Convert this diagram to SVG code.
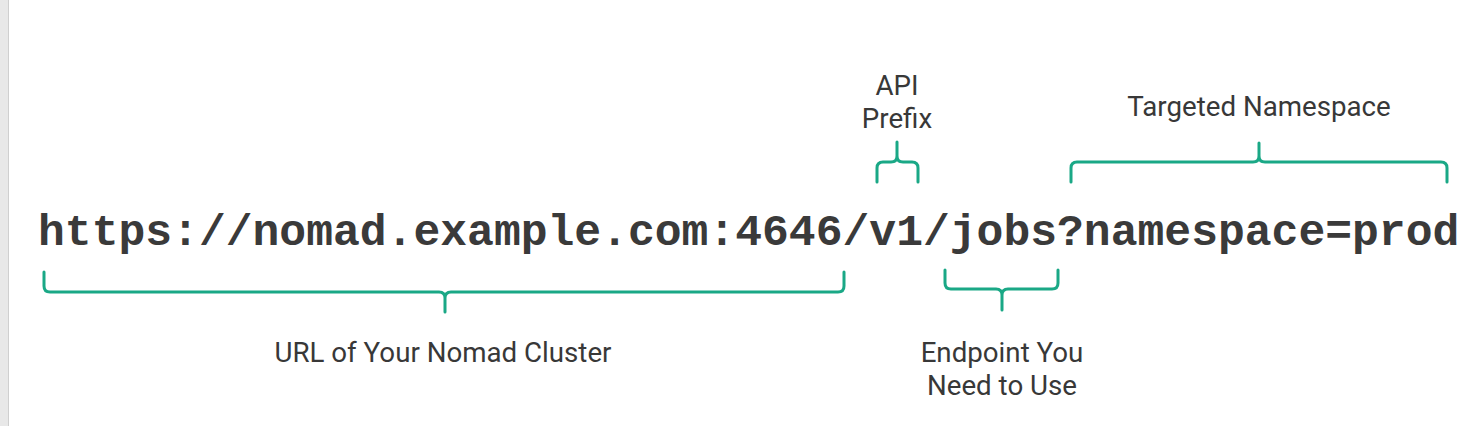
<svg xmlns="http://www.w3.org/2000/svg" width="1473" height="426" viewBox="0 0 1473 426">
<style>
.url{font-family:"Courier New","Liberation Mono",monospace;font-weight:bold;font-size:44.7px;fill:#3a3a3a}
.lbl{font-family:Roboto,"Noto Sans",sans-serif;font-size:27.7px;fill:#383838;text-anchor:middle}
.br{fill:none;stroke:#1aa886;stroke-width:3;stroke-linecap:round;stroke-linejoin:round}
</style>
<rect x="0" y="0" width="1473" height="426" fill="#fff"/>
<rect x="0" y="0" width="8" height="426" fill="#e8e8e8"/>
<rect x="8" y="0" width="1" height="426" fill="#cfcfcf"/>
<g id="url"><text class="url" x="38" y="245">https://nomad.example.com:4646/v1/jobs?namespace=prod</text></g>
<g id="connectors">
<path class="br" d="M44,272 V286 Q44,292 50,292 H439 Q445,292 445,298 V312 V298 Q445,292 451,292 H838 Q844,292 844,286 V272"/>
<path class="br" d="M877,182 V168 Q877,162 883,162 H891 Q897,162 897,156 V142 V156 Q897,162 903,162 H912 Q918,162 918,168 V182"/>
<path class="br" d="M945,270 V283 Q945,289 951,289 H996 Q1002,289 1002,295 V310 V295 Q1002,289 1008,289 H1052 Q1058,289 1058,283 V270"/>
<path class="br" d="M1071,182 V168 Q1071,162 1077,162 H1253 Q1259,162 1259,156 V143 V156 Q1259,162 1265,162 H1441 Q1447,162 1447,168 V182"/>
</g>
<g id="label-url"><text class="lbl" x="443" y="362">URL of Your Nomad Cluster</text></g>
<g id="label-api"><text class="lbl" x="897" y="95">API</text><text class="lbl" x="897" y="128">Prefix</text></g>
<g id="label-endpoint"><text class="lbl" x="1002" y="362">Endpoint You</text><text class="lbl" x="1002" y="395">Need to Use</text></g>
<g id="label-ns"><text class="lbl" x="1259" y="116">Targeted Namespace</text></g>
</svg>
